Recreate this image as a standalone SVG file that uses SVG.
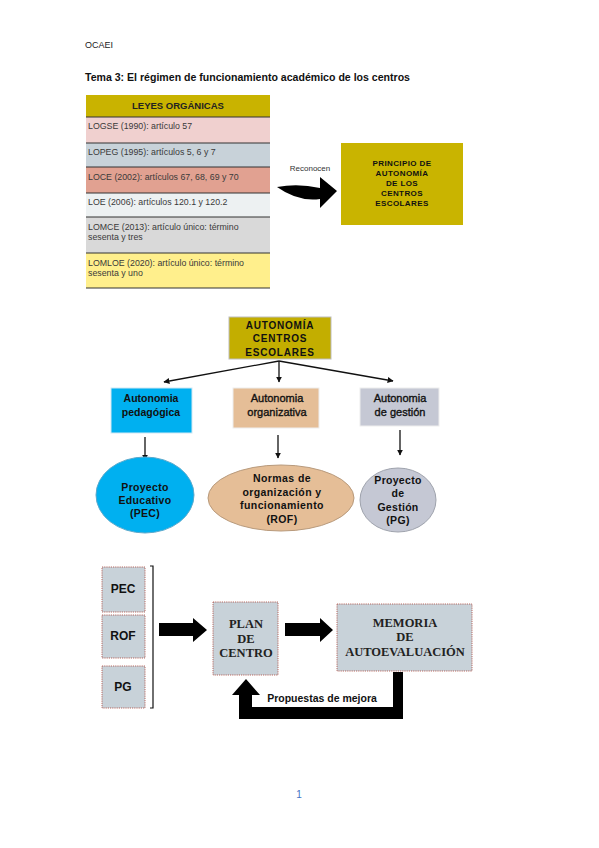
<svg xmlns="http://www.w3.org/2000/svg" width="599" height="848" viewBox="0 0 599 848">
<style>
.s{font-family:"Liberation Sans",Arial,sans-serif}
.b{font-weight:bold}
.semi{stroke:#111;stroke-width:0.35}
.row{font-family:"Liberation Sans",Arial,sans-serif;font-size:8.8px;fill:#3a3a3a}
.c{text-anchor:middle}
.serif{font-family:"Liberation Serif","Times New Roman",serif;font-weight:bold;font-size:12.5px;fill:#222;text-anchor:middle}
.sep{stroke:#333;stroke-width:1}
.dot{fill:#c8d2d9;stroke:#b05a50;stroke-width:0.9;stroke-dasharray:1.2 1}
.conn{stroke:#111;stroke-width:1.3;fill:none}
</style>
<defs>
<marker id="ah" viewBox="0 0 10 10" refX="9" refY="5" markerWidth="6" markerHeight="6" orient="auto" markerUnits="userSpaceOnUse">
<path d="M0,0 L10,5 L0,10 Z" fill="#111"/>
</marker>
</defs>
<rect width="599" height="848" fill="#fff"/>

<g id="header">
<text x="85" y="48" class="s" font-size="9" fill="#222" textLength="28" lengthAdjust="spacingAndGlyphs">OCAEI</text>
<text x="85" y="81" class="s b" font-size="11.5" fill="#111" textLength="325" lengthAdjust="spacingAndGlyphs">Tema 3: El régimen de funcionamiento académico de los centros</text>
</g>

<g id="leyes-table">
<rect x="86" y="95" width="184" height="22" fill="#c9b300"/>
<rect x="86" y="117" width="184" height="26" fill="#f0d0cf"/>
<rect x="86" y="143" width="184" height="24" fill="#c8d2d9"/>
<rect x="86" y="167" width="184" height="26" fill="#e1a191"/>
<rect x="86" y="193" width="184" height="24" fill="#edf1f2"/>
<rect x="86" y="217" width="184" height="36" fill="#d9d9d9"/>
<rect x="86" y="253" width="184" height="35" fill="#ffef8c"/>
<line x1="86" y1="117" x2="270" y2="117" class="sep"/>
<line x1="86" y1="143" x2="270" y2="143" class="sep"/>
<line x1="86" y1="167" x2="270" y2="167" class="sep"/>
<line x1="86" y1="193" x2="270" y2="193" class="sep"/>
<line x1="86" y1="217" x2="270" y2="217" class="sep"/>
<line x1="86" y1="253" x2="270" y2="253" class="sep"/>
<line x1="86" y1="288" x2="270" y2="288" class="sep"/>
<text x="178" y="109" class="s b c" font-size="9.5" fill="#222">LEYES ORGÁNICAS</text>
<text x="88" y="129" class="row">LOGSE (1990): artículo 57</text>
<text x="88" y="155" class="row">LOPEG (1995): artículos 5, 6 y 7</text>
<text x="88" y="180" class="row">LOCE (2002): artículos 67, 68, 69 y 70</text>
<text x="88" y="205" class="row">LOE (2006): artículos 120.1 y 120.2</text>
<text x="88" y="230" class="row">LOMCE (2013): artículo único: término</text>
<text x="88" y="240" class="row">sesenta y tres</text>
<text x="88" y="266" class="row">LOMLOE (2020): artículo único: término</text>
<text x="88" y="276" class="row">sesenta y uno</text>
</g>

<g id="connectors">
<path d="M277,187 Q298,183 320,188 L320,177 L337,191 L320,208 L320,199 Q298,202 277,187 Z" fill="#000"/>
<text x="310" y="171" class="s c" font-size="8" fill="#333">Reconocen</text>
<line x1="279" y1="361" x2="164" y2="382" class="conn" marker-end="url(#ah)"/>
<line x1="279" y1="361" x2="279" y2="382" class="conn" marker-end="url(#ah)"/>
<line x1="279" y1="361" x2="393" y2="381" class="conn" marker-end="url(#ah)"/>
<line x1="145" y1="437" x2="145" y2="460" class="conn" marker-end="url(#ah)"/>
<line x1="278" y1="435" x2="278" y2="458" class="conn" marker-end="url(#ah)"/>
<line x1="400" y1="430" x2="400" y2="455" class="conn" marker-end="url(#ah)"/>
<path d="M150,566 L153,566 L153,708 L150,708" stroke="#111" stroke-width="1.2" fill="none"/>
<path d="M159,623 L193,623 L193,618 L207,630 L193,642 L193,636 L159,636 Z" fill="#000"/>
<path d="M285,623 L320,623 L320,618 L333,630 L320,642 L320,636 L285,636 Z" fill="#000"/>
<path d="M393,672 L403,672 L403,719 L239,719 L239,695 L232,695 L246,679 L260,695 L252,695 L252,707 L393,707 Z" fill="#000"/>
<text x="322" y="702" class="s b c" font-size="10.5" fill="#111">Propuestas de mejora</text>
</g>

<g id="principio">
<rect x="341" y="143" width="122" height="82" fill="#c9b400"/>
<g class="s b c" font-size="8" fill="#111" letter-spacing="0.4">
<text x="402" y="166">PRINCIPIO DE</text>
<text x="402" y="176">AUTONOMÍA</text>
<text x="402" y="186">DE LOS</text>
<text x="402" y="196">CENTROS</text>
<text x="402" y="206">ESCOLARES</text>
</g>
</g>

<g id="autonomia-centros">
<rect x="229" y="317" width="102" height="42" fill="#c3ae00" stroke="#bdbdbd" stroke-width="1"/>
<g class="s b c" font-size="10" fill="#111" letter-spacing="0.8">
<text x="280" y="329">AUTONOMÍA</text>
<text x="280" y="342">CENTROS</text>
<text x="280" y="356">ESCOLARES</text>
</g>
</g>

<g id="autonomia-pedagogica">
<rect x="111" y="388" width="81" height="45" fill="#00b0f0" stroke="#d0e8f4" stroke-width="1"/>
<text x="151" y="402" class="s b c" font-size="10.5" fill="#111">Autonomia</text>
<text x="151" y="416" class="s b c" font-size="10.5" fill="#111">pedagógica</text>
</g>

<g id="autonomia-organizativa">
<rect x="233" y="388" width="86" height="40" fill="#e5be97" stroke="#eee" stroke-width="1"/>
<text x="277" y="402" class="s c semi" font-size="11" fill="#111">Autonomia</text>
<text x="277" y="416" class="s c semi" font-size="11" fill="#111">organizativa</text>
</g>

<g id="autonomia-gestion">
<rect x="360" y="388" width="79" height="38" fill="#c5c8d4" stroke="#eee" stroke-width="1"/>
<text x="400" y="402" class="s c semi" font-size="11" fill="#111">Autonomia</text>
<text x="400" y="416" class="s c semi" font-size="11" fill="#111">de gestión</text>
</g>

<g id="pec-ellipse">
<ellipse cx="145" cy="495" rx="49" ry="38" fill="#00b0f0" stroke="#5aa9cc" stroke-width="1"/>
<g class="s b c" font-size="10.5" fill="#111" letter-spacing="0.3">
<text x="145" y="491">Proyecto</text>
<text x="145" y="504">Educativo</text>
<text x="145" y="517">(PEC)</text>
</g>
</g>

<g id="rof-ellipse">
<ellipse cx="281" cy="498" rx="73" ry="33" fill="#e5be97" stroke="#b89a7c" stroke-width="1"/>
<g class="s b c" font-size="10.5" fill="#111" letter-spacing="0.4">
<text x="282" y="482">Normas de</text>
<text x="282" y="496">organización y</text>
<text x="282" y="509">funcionamiento</text>
<text x="282" y="523">(ROF)</text>
</g>
</g>

<g id="pg-ellipse">
<ellipse cx="398" cy="500" rx="38" ry="32" fill="#c5c8d4" stroke="#9fa3ad" stroke-width="1"/>
<g class="s b c" font-size="10.5" fill="#111" letter-spacing="0.3">
<text x="398" y="484">Proyecto</text>
<text x="398" y="497">de</text>
<text x="398" y="511">Gestión</text>
<text x="398" y="524">(PG)</text>
</g>
</g>

<g id="pec-box">
<rect x="102" y="567" width="43" height="45" class="dot"/>
<text x="123" y="593" class="s b c" font-size="12" fill="#111">PEC</text>
</g>
<g id="rof-box">
<rect x="102" y="615" width="43" height="43" class="dot"/>
<text x="123" y="640" class="s b c" font-size="12" fill="#111">ROF</text>
</g>
<g id="pg-box">
<rect x="102" y="666" width="43" height="42" class="dot"/>
<text x="123" y="691" class="s b c" font-size="12" fill="#111">PG</text>
</g>

<g id="plan-centro">
<rect x="213" y="602" width="65" height="73" class="dot"/>
<text x="246" y="628" class="serif">PLAN</text>
<text x="246" y="643" class="serif">DE</text>
<text x="246" y="657" class="serif">CENTRO</text>
</g>

<g id="memoria">
<rect x="337" y="604" width="135" height="67" class="dot"/>
<text x="405" y="627" class="serif">MEMORIA</text>
<text x="405" y="641" class="serif">DE</text>
<text x="405" y="656" class="serif">AUTOEVALUACIÓN</text>
</g>

<g id="footer">
<text x="299" y="798" class="s c" font-size="10" fill="#4472c4">1</text>
</g>
</svg>
